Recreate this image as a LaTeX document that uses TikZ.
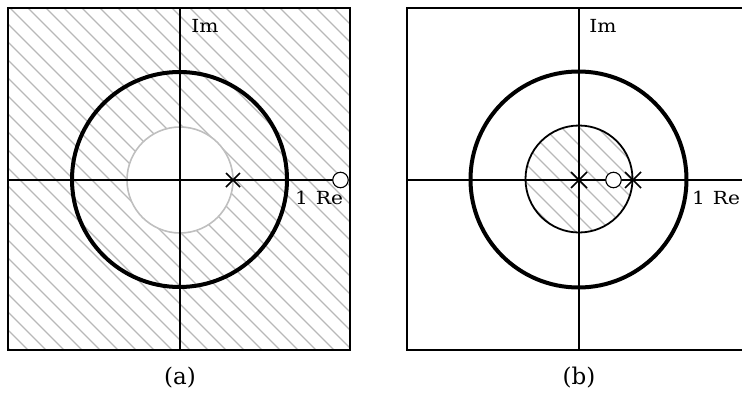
\documentclass[tikz,border=0pt]{standalone}
\usepackage{fontspec}
\newfontfamily\serifdv{DejaVu Serif}
\newcommand{\wlbl}[1]{\scalebox{1.12}[1]{#1}}
\usetikzlibrary{calc}
\begin{document}
\begin{tikzpicture}[x=1pt,y=-1pt,
  frameline/.style={line width=2pt},
  axisline/.style={line width=1.8pt},
  unitcirc/.style={line width=4pt},
  hatchline/.style={black!28,line width=1.4pt},
  polemark/.style={line width=1.7pt},
  zeromark/.style={line width=1.1pt,fill=white},
  lbl/.style={font=\serifdv\fontsize{18}{21}\selectfont,inner sep=0pt},
  captxt/.style={font=\serifdv\fontsize{23}{27}\selectfont,inner sep=0pt}]
\useasboundingbox (0,0) rectangle (742,394);
% ---------- panel (a) ----------
\begin{scope}[even odd rule]
  \clip (8,8) rectangle (350,350) (180,180) circle (53);
  \foreach \c in {-358,-340,...,360}
    \draw[hatchline] (\c,0) -- ({\c+400},400);
\end{scope}
\draw[black!25,line width=1.6pt] (180,180) circle (53);
\draw[frameline] (8,8) rectangle (350,350);
\draw[axisline] (180,8) -- (180,350);
\draw[axisline] (8,180) -- (340,180);
\draw[unitcirc] (179.5,179.5) circle (107.5);
\coordinate (pa) at (233,180);
\draw[polemark] ($(pa)+(-7,-7)$) -- ($(pa)+(7,7)$) ($(pa)+(-7,7)$) -- ($(pa)+(7,-7)$);
\node[zeromark,circle,draw,minimum size=15.5pt,inner sep=0pt] (za) at (340.5,180) {};
\node[lbl] (ima) at (205,26) {\wlbl{Im}};
\node[lbl] (rea) at (319,197.5) {\wlbl{1\hspace{0.4em}Re}};
\node[captxt] (capa) at (180,378) {(a)};
% ---------- panel (b) ----------
\begin{scope}
  \clip (579,179) circle (53.5);
  \foreach \c in {38,56,...,700}
    \draw[hatchline] (\c,0) -- ({\c+400},400);
\end{scope}
\draw[frameline] (742,8) -- (407,8) -- (407,350) -- (742,350);
\draw[axisline] (579,8) -- (579,350);
\draw[axisline] (407,180) -- (742,180);
\draw[line width=1.8pt] (579,179) circle (53.5);
\draw[unitcirc] (578.5,179.5) circle (108);
\coordinate (pb1) at (579,180);
\coordinate (pb2) at (633,180);
\foreach \p in {pb1,pb2}
  \draw[polemark] ($(\p)+(-8,-8)$) -- ($(\p)+(8,8)$) ($(\p)+(-8,8)$) -- ($(\p)+(8,-8)$);
\node[zeromark,circle,draw,minimum size=15.5pt,inner sep=0pt] (zb) at (613.5,180) {};
\node[lbl] (imb) at (603,26) {\wlbl{Im}};
\node[lbl] (reb) at (716,197.5) {\wlbl{1\hspace{0.4em}Re}};
\node[captxt] (capb) at (579,378) {(b)};
\end{tikzpicture}
\end{document}
